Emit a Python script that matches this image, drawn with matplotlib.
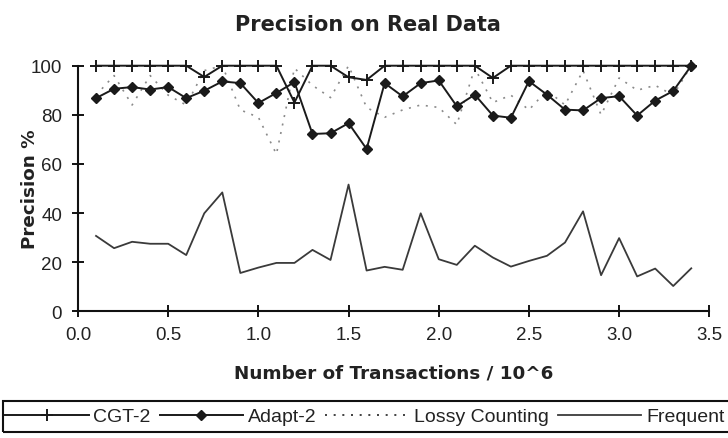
import matplotlib
matplotlib.use("Agg")
import matplotlib.pyplot as plt
from matplotlib.patches import Rectangle

# ---- data ----
transactions = [0.1, 0.2, 0.3, 0.4, 0.5, 0.6, 0.7, 0.8, 0.9, 1.0,
                1.1, 1.2, 1.3, 1.4, 1.5, 1.6, 1.7, 1.8, 1.9, 2.0,
                2.1, 2.2, 2.3, 2.4, 2.5, 2.6, 2.7, 2.8, 2.9, 3.0,
                3.1, 3.2, 3.3, 3.4]
cgt2 = [100, 100, 100, 100, 100, 100, 95.4, 100, 100, 100,
        100, 85.0, 100, 100, 95.3, 94.2, 100, 100, 100, 100,
        100, 100, 95.0, 100, 100, 100, 100, 100, 100, 100,
        100, 100, 100, 100]
adapt2 = [86.8, 90.6, 91.3, 90.3, 91.3, 86.8, 89.8, 93.6, 92.9, 84.8,
          88.9, 93.3, 72.2, 72.5, 76.6, 66.1, 92.9, 87.5, 92.9, 94.0,
          83.5, 88.2, 79.7, 78.8, 93.7, 88.2, 82.1, 81.8, 86.8, 87.6,
          79.7, 85.8, 89.7, 100]
lossy = [88, 96, 84, 96, 88, 84, 98, 100, 82, 79,
         64, 99, 92, 87, 100, 83, 79, 82, 84, 83,
         76, 99, 85, 88, 82, 90, 84, 98, 80, 95,
         90, 92, 88, 100]
frequent = [30.7, 25.7, 28.3, 27.5, 27.5, 22.9, 39.9, 48.4, 15.6, 17.8,
            19.7, 19.7, 25.0, 20.9, 51.6, 16.6, 18.1, 16.9, 39.9, 21.2,
            18.9, 26.7, 21.9, 18.2, 20.5, 22.6, 28.0, 40.7, 14.7, 29.8,
            14.2, 17.4, 10.3, 17.5]
series_labels = ["CGT-2", "Adapt-2", "Lossy Counting", "Frequent"]
x_ticks = [0.0, 0.5, 1.0, 1.5, 2.0, 2.5, 3.0, 3.5]
y_ticks = [0, 20, 40, 60, 80, 100]

W, H = 728, 439
fig = plt.figure(figsize=(W / 100, H / 100), dpi=100)
fig.patch.set_facecolor("white")

left, right = 78 / W, 709.3 / W
bottom, top = 1 - 312.3 / H, 1 - 66.7 / H
ax = fig.add_axes([left, bottom, right - left, top - bottom])
ax.set_facecolor("white")

l_lossy, = ax.plot(transactions, lossy, color="#8a8a8a", lw=1.2,
                   linestyle=(0, (1.2, 4)), clip_on=False, label=series_labels[2])
l_freq, = ax.plot(transactions, frequent, color="#3a3a3a", lw=1.3,
                  clip_on=False, label=series_labels[3])
l_cgt, = ax.plot(transactions, cgt2, color="#1a1a1a", lw=1.4, marker="+",
                 ms=8, mew=1.4, clip_on=False, label=series_labels[0])
l_adapt, = ax.plot(transactions, adapt2, color="#1a1a1a", lw=1.4, marker="D",
                   ms=5.5, mew=1.0, clip_on=False, label=series_labels[1])

ax.set_xlim(0, 3.5)
ax.set_ylim(0, 100)
ax.set_xticks(x_ticks)
ax.set_xticklabels([f"{v:.1f}" for v in x_ticks])
ax.set_yticks(y_ticks)
ax.set_yticklabels([str(v) for v in y_ticks])

for s in ["top", "right"]:
    ax.spines[s].set_visible(False)
for s in ["left", "bottom"]:
    ax.spines[s].set_linewidth(1.5)
    ax.spines[s].set_color("#111111")

ax.tick_params(axis="both", direction="inout", length=8, width=1.4,
               colors="#111111", labelcolor="#222222")
ax.tick_params(axis="y", pad=7.5)
ax.tick_params(axis="x", pad=6.5)
for lab in ax.get_xticklabels() + ax.get_yticklabels():
    lab.set_family("Liberation Sans")
    lab.set_fontsize(13.5)

ax.set_xlabel("Number of Transactions / 10^6", family="DejaVu Sans",
              fontweight="bold", fontsize=13.2, color="#222222", va="center")
ax.xaxis.set_label_coords((393.6 - 78) / (709.3 - 78), (312.3 - 374) / (312.3 - 66.7))
ax.set_ylabel("Precision %", family="DejaVu Sans", fontweight="bold",
              fontsize=13.2, color="#222222", va="center")
ax.yaxis.set_label_coords((30 - 78) / (709.3 - 78), 0.5)

fig.text(368 / W, 1 - 25 / H, "Precision on Real Data", family="DejaVu Sans",
         fontweight="bold", fontsize=15, color="#222222", ha="center", va="center")

# legend box
fig.patches.append(Rectangle((3 / W, 1 - 433 / H), 740 / W, 31 / H,
                             transform=fig.transFigure, fill=False,
                             edgecolor="#111111", lw=1.5))
leg = fig.legend([l_cgt, l_adapt, l_lossy, l_freq], series_labels, ncol=4,
                 loc="center left", bbox_to_anchor=(5 / W, 1 - 417.5 / H),
                 frameon=False, prop={"family": "Liberation Sans", "size": 14},
                 handlelength=4.3, handletextpad=0.25, columnspacing=0.45,
                 borderaxespad=0, borderpad=0, labelcolor="#222222")
for h in leg.legend_handles:
    if h.get_linestyle() not in ("-", "solid"):
        h.set_color("#222222")

fig.savefig("out.png", dpi=100, facecolor="white")
